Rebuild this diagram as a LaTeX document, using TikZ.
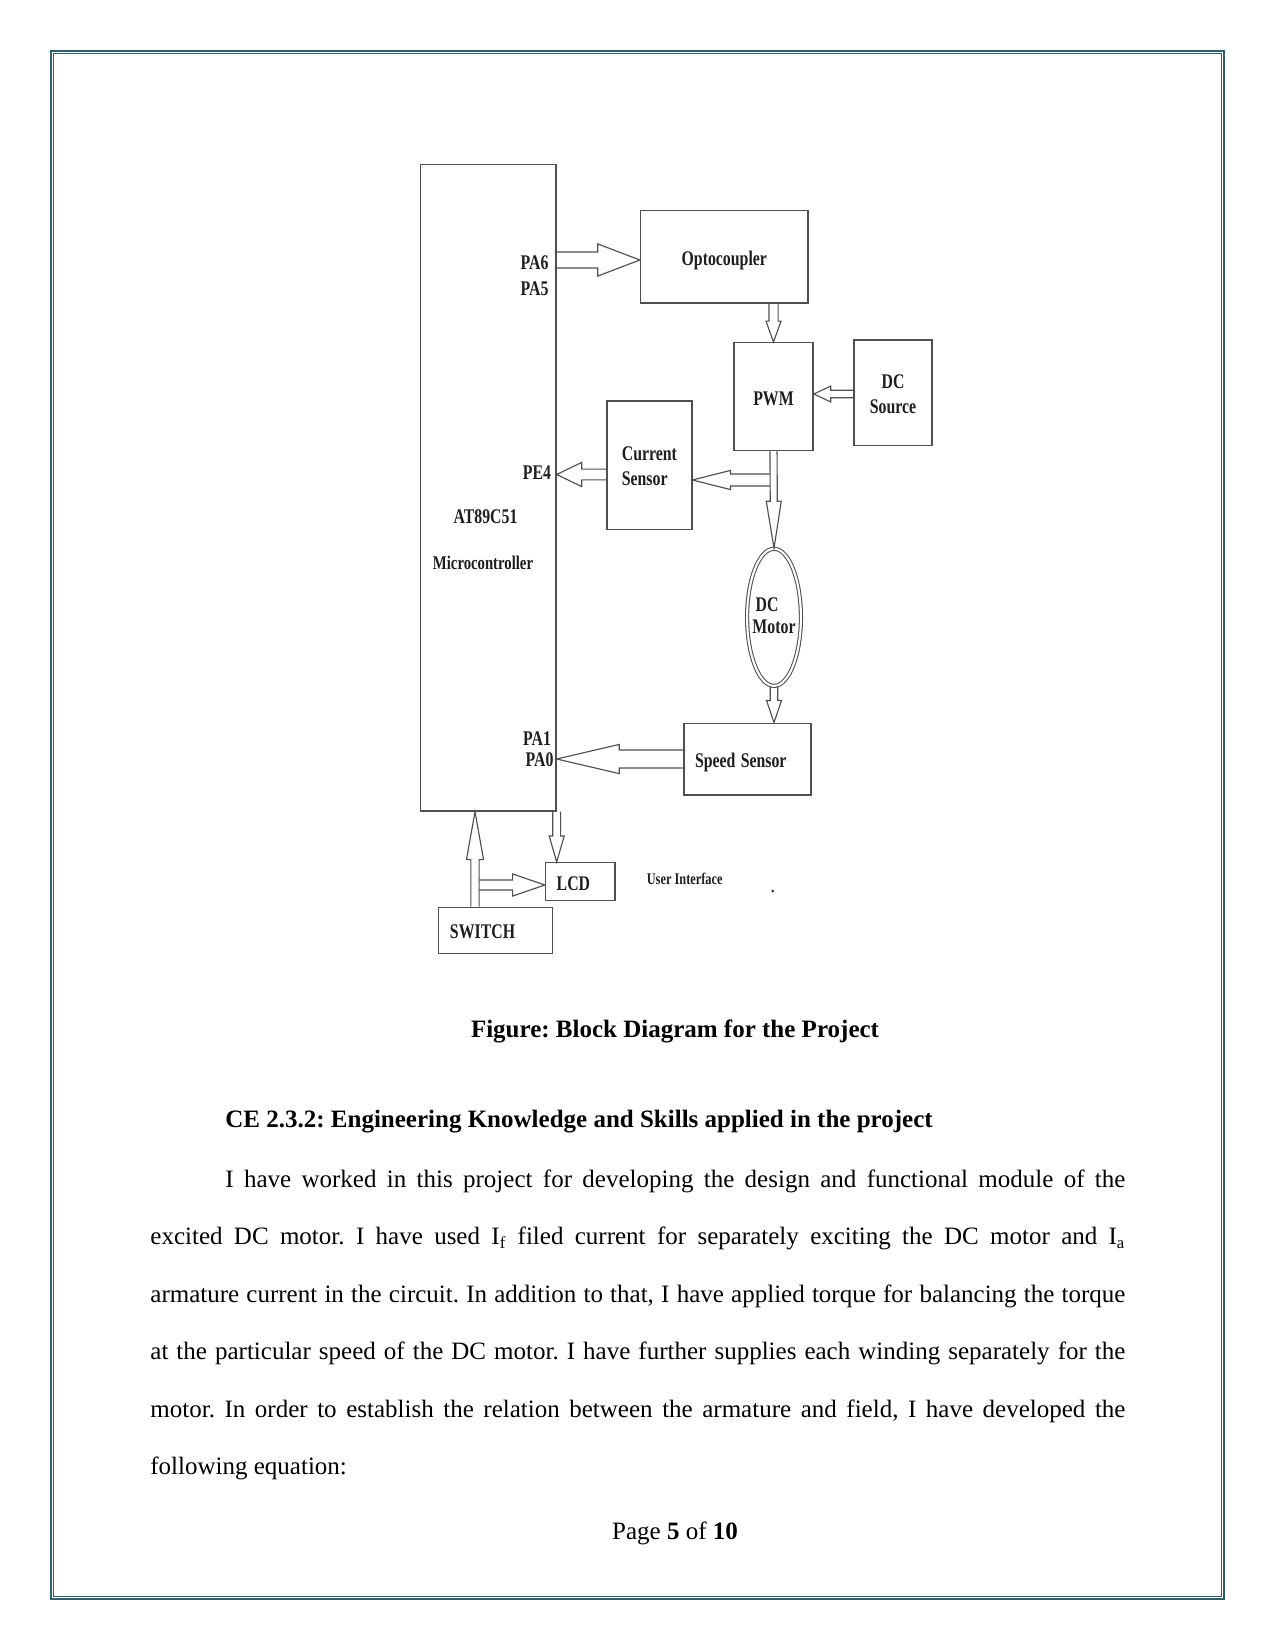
\documentclass[tikz,border=0pt]{standalone}
\usepackage{fontspec}
\setmainfont{Liberation Serif}
\usetikzlibrary{calc,shapes.geometric}
\frenchspacing

\definecolor{framecol}{RGB}{47,94,108}
\definecolor{boxcol}{RGB}{80,80,80}
\definecolor{txtcol}{RGB}{30,30,30}

% narrow bold label, lines split by \\
\newcommand\lbl[2][l]{\raisebox{-1.6pt}[\height][\depth]{\scalebox{0.76}[1]{\begin{tabular}{@{}#1@{}}#2\end{tabular}}}}

% hollow block arrow: from, to, shaft half width, head half width, head length
\newcommand\hollowarrow[5]{%
	\path ($(#2)!#5!(#1)$) coordinate (hb);
	\draw[hollow] ($(#1)!#3!90:(#2)$) -- ($(hb)!#3!90:(#2)$) -- ($(hb)!#4!90:(#2)$) -- (#2)
		-- ($(hb)!#4!-90:(#2)$) -- ($(hb)!#3!-90:(#2)$) -- ($(#1)!#3!-90:(#2)$);
}

\begin{document}
\begin{tikzpicture}[x=0.48pt,y=-0.48pt]

	% Define node styles
	\tikzstyle{block} = [rectangle, draw=boxcol, line width=0.7pt, inner sep=0pt, text=txtcol, font=\bfseries\fontsize{10}{12}\selectfont]
	\tikzstyle{motorshape} = [ellipse, draw=boxcol, line width=0.5pt, double, double distance=1pt, inner sep=0pt]
	\tikzstyle{pin} = [inner sep=0pt, text=txtcol, font=\bfseries\fontsize{10}{11}\selectfont]
	\tikzstyle{hollow} = [draw=boxcol, line width=0.55pt, line join=miter]
	\tikzstyle{caption} = [inner sep=0pt, font=\bfseries\fontsize{12}{14}\selectfont]
	\tikzstyle{body} = [inner sep=0pt, font=\fontsize{12}{14}\selectfont]

	\useasboundingbox (0,0) rectangle (1275,1650);

	% page frame
	\draw[framecol, line width=0.75pt] (50.8,50.8) rectangle (1224,1599);
	\draw[framecol, line width=0.4pt] (53.2,53.2) rectangle (1221.6,1596.6);

	% Place blocks
	\node[block, minimum width=64.9pt, minimum height=310.2pt] (mcu) at (488.35,487.85) {};
	\node[block, minimum width=80.35pt, minimum height=44.3pt] (opto) at (724.3,256.85) {\lbl{Optocoupler}};
	\node[block, minimum width=37.9pt, minimum height=51.8pt] (pwm) at (773.5,396.7) {\lbl{PWM}};
	\node[block, minimum width=37.4pt, minimum height=50.7pt] (dcs) at (893,392.85) {\lbl[c]{DC\\Source}};
	\node[block, minimum width=40.7pt, minimum height=61.6pt] (cur) at (649.4,465.15) {\lbl{Current\\Sensor}};
	\node[motorshape, minimum width=25.84pt, minimum height=65.8pt,
		label={[pin, yshift=1.4pt, font=\bfseries\fontsize{10}{10.5}\selectfont]center:\lbl{\hspace{2pt}DC\\Motor}}] (motor) at (774,617.35) {};
	\node[block, align=left, text width=50.4pt, inner xsep=5.3pt, minimum height=34.4pt] (spd) at (747.5,759.15) {\lbl{Speed Sensor}};
	\node[block, align=left, text width=22.7pt, inner xsep=5.3pt, minimum height=18.2pt] (lcd) at (580.35,881.7) {\lbl{LCD}};
	\node[block, align=left, text width=43.5pt, inner xsep=5.6pt, minimum height=22.1pt] (sw) at (495.3,930.3) {\lbl{SWITCH}};

	% Port and chip labels
	\node[pin, anchor=east] (pa6) at (549,261.5) {\lbl{PA6}};
	\node[pin, anchor=east] (pa5) at (549,288) {\lbl{PA5}};
	\node[pin, anchor=east] (pe4) at (551.5,471.7) {\lbl{PE4}};
	\node[pin, anchor=east] (pa1) at (551.5,737.5) {\lbl{PA1}};
	\node[pin, anchor=east] (pa0) at (554,758.5) {\lbl{PA0}};
	\node[pin] (chip) at (485.5,516) {\lbl{AT89C51}};
	\node[pin, font=\bfseries\fontsize{9.3}{11}\selectfont] (mcuname) at (483,562) {\lbl{Microcontroller}};
	\node[pin, font=\bfseries\fontsize{7.8}{9}\selectfont] (ui) at (684.7,877) {\lbl{User Interface}};
	\fill[txtcol] (772.7,891) circle (0.7pt);

	% Arrow end points
	\path (mcu.east |- 0,260) coordinate (pa6s) (opto.west |- 0,260) coordinate (pa6t);
	\path (opto.south -| pwm.north) coordinate (optoout);
	\path (dcs.west |- 0,394) coordinate (dcsout) (pwm.east |- 0,394) coordinate (pwmin);
	\coordinate (tap1) at (770,480);
	\path (cur.east |- tap1) coordinate (curin);
	\path (cur.west |- 0,474.5) coordinate (curout) (mcu.east |- 0,474.5) coordinate (pe4pt);
	\path (spd.west |- 0,759) coordinate (spdout) (mcu.east |- 0,759) coordinate (pa0pt);
	\path (motor.south |- spd.north) coordinate (spdin);
	\path (lcd.north -| mcu.east) coordinate (lcdtop);
	\path (sw.north -| 475,0) coordinate (swout) (mcu.south -| 475,0) coordinate (swin);
	\coordinate (tap2) at (479.2,885);
	\path (lcd.west |- tap2) coordinate (lcdin);

	% Draw block arrows
	\foreach \source/\dest/\sw/\hw/\hl in {
		pa6s/pa6t/3.84pt/7.7pt/20.2pt,
		optoout/pwm.north/2.2pt/3.6pt/10pt,
		dcsout/pwmin/1.8pt/3.8pt/8.2pt,
		pwm.south/motor.north/1.7pt/3.6pt/22.6pt,
		tap1/curin/2.9pt/4.6pt/18.2pt,
		curout/pe4pt/2.6pt/5.8pt/12pt,
		spdout/pa0pt/4.3pt/7pt/30pt,
		motor.south/spdin/1.8pt/3.6pt/10.6pt,
		mcu.south east/lcdtop/1.9pt/3.6pt/12.5pt,
		swout/swin/2pt/4.1pt/23pt,
		tap2/lcdin/2.4pt/5.3pt/15.5pt}
	\hollowarrow{\source}{\dest}{\sw}{\hw}{\hl};

	% Caption and text
	\node[caption, anchor=base] (cap) at (675,1037) {Figure: Block Diagram for the Project};
	\node[caption, anchor=base west] (head) at (225,1127) {CE 2.3.2: Engineering Knowledge and Skills applied in the project};
	\node[body, anchor=base west] (l1) at (225,1187) {\makebox[432pt][s]{I have worked in this project for developing the design and functional module of the}};
	\node[body, anchor=base west] (l2) at (150,1244.5) {\makebox[468pt][s]{excited DC motor. I have used I\textsubscript{f} filed current for separately exciting the DC motor and I\textsubscript{a}}};
	\node[body, anchor=base west] (l3) at (150,1302) {\makebox[468pt][s]{armature current in the circuit. In addition to that, I have applied torque for balancing the torque}};
	\node[body, anchor=base west] (l4) at (150,1359.5) {\makebox[468pt][s]{at the particular speed of the DC motor. I have further supplies each winding separately for the}};
	\node[body, anchor=base west] (l5) at (150,1417) {\makebox[468pt][s]{motor. In order to establish the relation between the armature and field, I have developed the}};
	\node[body, anchor=base west] (l6) at (150,1474.5) {following equation:};
	\node[body, anchor=base] (page) at (675,1539) {Page \textbf{5} of \textbf{10}};

\end{tikzpicture}
\end{document}
